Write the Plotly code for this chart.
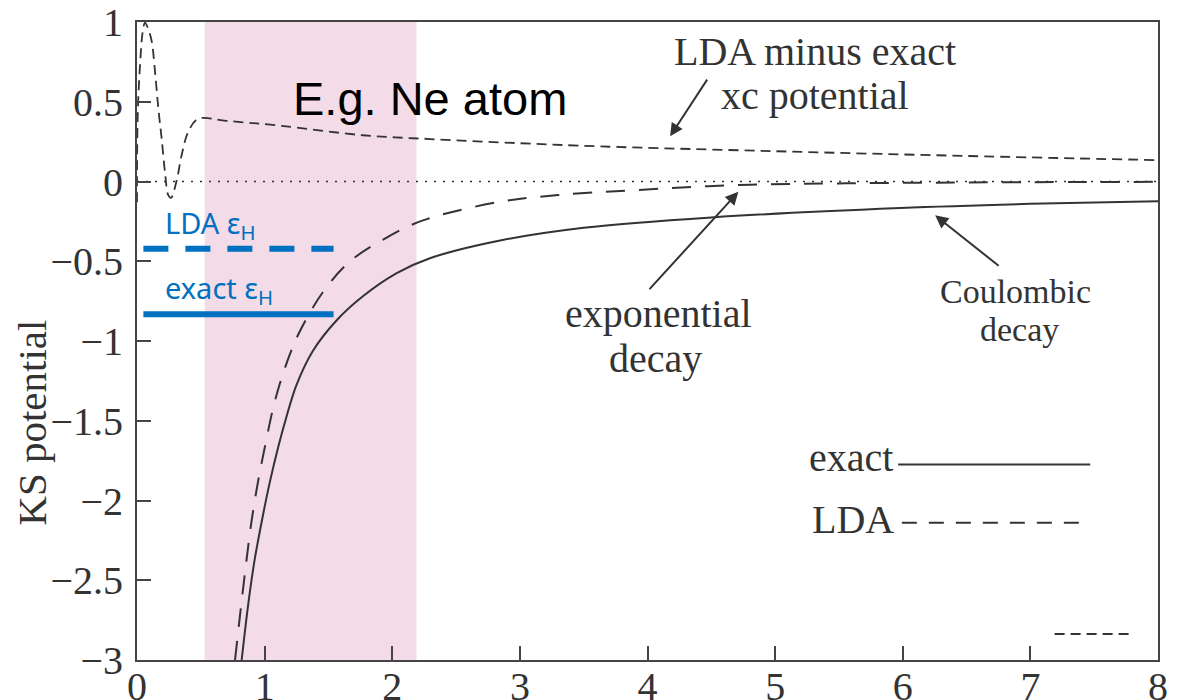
import plotly.graph_objects as go

# ---------------- data ----------------
exact_x = [0.82, 0.87, 0.92, 0.99, 1.042, 1.108, 1.173, 1.25, 1.38, 1.565,
           1.77, 2.035, 2.30, 2.845, 3.5, 4.5, 5.98, 7.0, 8.0]
exact_y = [-3.0, -2.66, -2.38, -2.08, -1.88, -1.66, -1.47, -1.275, -1.06, -0.87,
           -0.72, -0.575, -0.48, -0.37, -0.29, -0.225, -0.166, -0.14, -0.124]

lda_x = [0.768, 0.81, 0.854, 0.893, 0.946, 1.008, 1.08, 1.178, 1.277, 1.46,
         1.67, 1.96, 2.24, 2.845, 3.3, 3.89, 4.67, 5.5, 6.5, 8.0]
lda_y = [-3.0, -2.70, -2.40, -2.155, -1.892, -1.64, -1.378, -1.126, -0.937, -0.69,
         -0.50, -0.35, -0.244, -0.127, -0.085, -0.055, -0.023, -0.012, -0.006, -0.002]

xc_diff_x = [0.0, 0.005, 0.024, 0.045, 0.063, 0.089, 0.115, 0.141, 0.167, 0.193,
             0.219, 0.245, 0.266, 0.311, 0.35, 0.402, 0.48, 0.7, 1.12, 1.77,
             2.30, 3.0, 3.63, 5.0, 6.5, 8.0]
xc_diff_y = [-0.13, 0.40, 0.733, 0.94, 0.996, 0.953, 0.88, 0.69, 0.46, 0.27,
             0.061, -0.086, -0.103, 0.008, 0.166, 0.313, 0.393, 0.38, 0.35, 0.29,
             0.266, 0.24, 0.22, 0.19, 0.16, 0.134]

zero_x = [0, 8]
zero_y = [0, 0]

eps_x = [0.05, 1.54]
eps_lda = -0.422
eps_exact = -0.832

band = [0.53, 2.19]

x_ticks = [0, 1, 2, 3, 4, 5, 6, 7, 8]
y_ticks = [1, 0.5, 0, -0.5, -1, -1.5, -2, -2.5, -3]

# ---------------- styling ----------------
INK = "#333333"
BLUE = "#0070C0"
SERIF = "Liberation Serif, Times New Roman, serif"
SANS = "Liberation Sans, Arial, sans-serif"

fig = go.Figure()

fig.add_vrect(x0=band[0], x1=band[1], fillcolor="#f3dbe8", line_width=0, layer="below")

fig.add_trace(go.Scatter(x=zero_x, y=zero_y, mode="lines",
                         line=dict(color=INK, width=1.6, dash="2px,7px")))
fig.add_trace(go.Scatter(x=xc_diff_x, y=xc_diff_y, mode="lines", line_shape="spline",
                         line=dict(color=INK, width=1.8, dash="10px,6px")))
fig.add_trace(go.Scatter(x=lda_x, y=lda_y, mode="lines", line_shape="spline",
                         line=dict(color=INK, width=2, dash="19px,14px")))
fig.add_trace(go.Scatter(x=exact_x, y=exact_y, mode="lines", line_shape="spline",
                         line=dict(color=INK, width=2)))

fig.add_trace(go.Scatter(x=eps_x, y=[eps_lda, eps_lda], mode="lines",
                         line=dict(color=BLUE, width=6, dash="25px,17px")))
fig.add_trace(go.Scatter(x=eps_x, y=[eps_exact, eps_exact], mode="lines",
                         line=dict(color=BLUE, width=6)))

ann = []
def txt(x, y, s, size=40, color=INK, family=SERIF, xanchor="center"):
    ann.append(dict(x=x, y=y, xref="x", yref="y", text=s, showarrow=False,
                    xanchor=xanchor, yanchor="middle",
                    font=dict(family=family, size=size, color=color)))

txt(5.313, 0.818, "LDA minus exact")
txt(5.309, 0.540, "xc potential")
txt(4.086, -0.828, "exponential")
txt(4.06, -1.107, "decay")
txt(6.885, -0.69, "Coulombic", size=34)
txt(6.912, -0.928, "decay", size=34)
txt(2.293, 0.522, "E.g. Ne atom", size=47, color="black", family=SANS)
txt(0.204, -0.27, "LDA ε<sub>H</sub>", size=29, color=BLUE, family="Noto Sans", xanchor="left")
txt(0.204, -0.68, "exact ε<sub>H</sub>", size=29, color=BLUE, family="Noto Sans", xanchor="left")
txt(5.94, -1.73, "exact", xanchor="right")
txt(5.95, -2.12, "LDA", xanchor="right")

# y-axis title placed like the reference (lower than the plot centre)
ann.append(dict(x=-0.1028, y=0.372, xref="paper", yref="paper", text="KS potential",
                showarrow=False, textangle=-90, xanchor="center", yanchor="middle",
                font=dict(family=SERIF, size=41, color=INK)))

def arrow(x_head, y_head, x_tail, y_tail):
    ann.append(dict(x=x_head, y=y_head, ax=x_tail, ay=y_tail, xref="x", yref="y",
                    axref="x", ayref="y", text="", showarrow=True,
                    arrowhead=2, arrowsize=1.3, arrowwidth=2, arrowcolor=INK))

arrow(4.177, 0.283, 4.475, 0.648)
arrow(4.712, -0.065, 4.005, -0.684)
arrow(6.254, -0.212, 6.763, -0.536)

# legend keys
fig.add_shape(type="line", x0=5.964, x1=7.469, y0=-1.774, y1=-1.774,
              line=dict(color=INK, width=2))
fig.add_shape(type="line", x0=5.993, x1=7.469, y0=-2.14, y1=-2.14,
              line=dict(color=INK, width=2, dash="15px,12px"))
fig.add_shape(type="line", x0=7.19, x1=7.78, y0=-2.837, y1=-2.837,
              line=dict(color=INK, width=1.8, dash="10px,6px"))

axis_common = dict(showline=True, linecolor="#444444", linewidth=2, mirror=True,
                   ticks="inside", ticklen=14, tickwidth=2, tickcolor="#444444",
                   showgrid=False, zeroline=False, automargin=False,
                   ticklabeloverflow="allow",
                   tickfont=dict(family=SERIF, size=40, color=INK))

fig.update_xaxes(range=[0, 8], tickvals=x_ticks, ticklabelstandoff=-10, **axis_common)
fig.update_yaxes(range=[-3, 1], tickvals=y_ticks, ticklabelstandoff=4, **axis_common)

# the page body adds an 8px margin, so the figure is 8px smaller on each axis
fig.update_layout(width=1182, height=692, margin=dict(l=129, r=32, t=14, b=40),
                  plot_bgcolor="white", paper_bgcolor="white", showlegend=False,
                  font=dict(family=SERIF, color=INK),
                  annotations=ann)

fig.write_html("out.html")
